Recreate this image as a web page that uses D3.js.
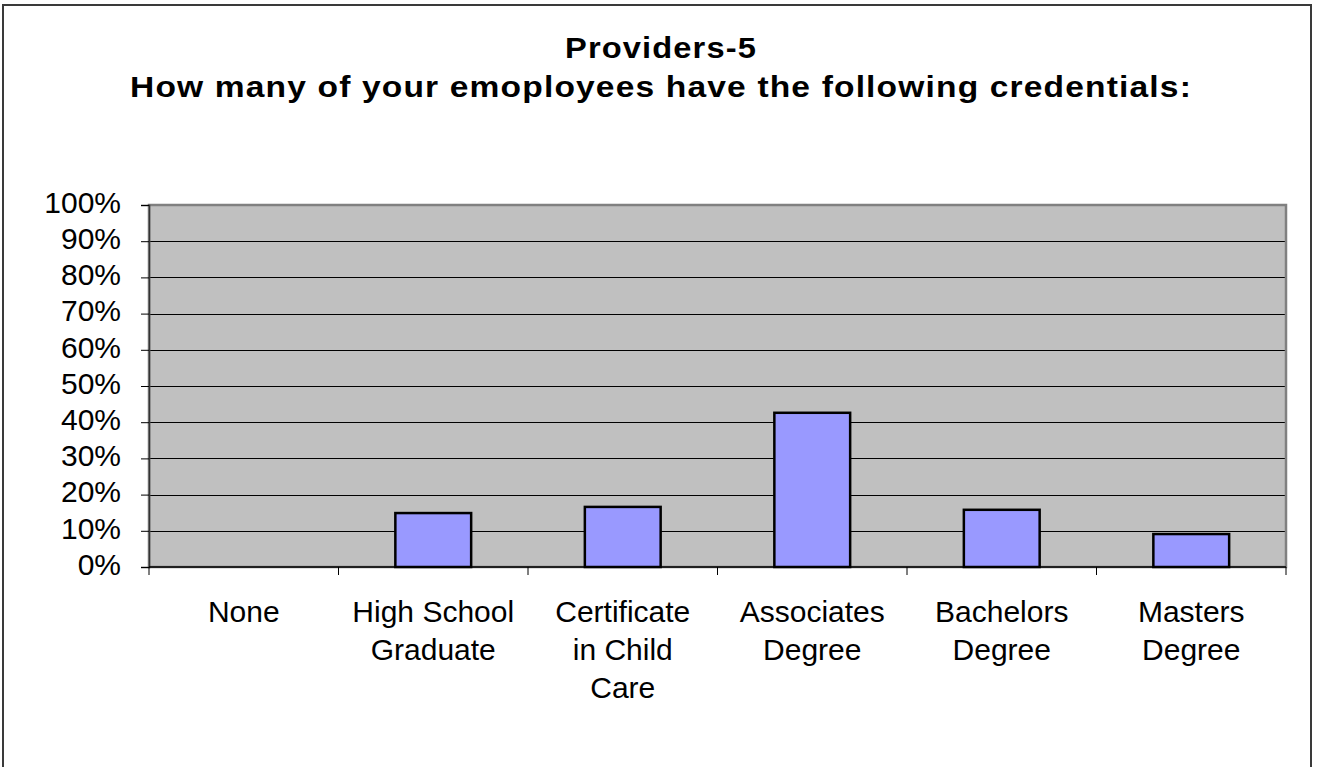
<!DOCTYPE html>
<html>
<head>
<meta charset="utf-8">
<script src="https://cdn.jsdelivr.net/npm/d3@7"></script>
<style>
  html, body { margin: 0; padding: 0; background: #fff; }
  svg { display: block; font-family: "Liberation Sans", Arial, sans-serif; }
</style>
</head>
<body>
<svg id="chart" width="1319" height="767"></svg>
<script>
const categories = [
  ["None"],
  ["High School", "Graduate"],
  ["Certificate", "in Child", "Care"],
  ["Associates", "Degree"],
  ["Bachelors", "Degree"],
  ["Masters", "Degree"]
];
const values = [0, 0.149, 0.166, 0.426, 0.158, 0.091];
const yTicks = [0, 0.1, 0.2, 0.3, 0.4, 0.5, 0.6, 0.7, 0.8, 0.9, 1.0];
const titleLines = ["Providers-5", "How many of your emoployees have the following credentials:"];

const svg = d3.select("#chart");
const plot = { left: 149, right: 1286, top: 205, bottom: 567 };

// outer frame
svg.append("rect")
  .attr("x", 3).attr("y", 5)
  .attr("width", 1311 - 3).attr("height", 820)
  .attr("fill", "#fff").attr("stroke", "#3a3a3a").attr("stroke-width", 2);

// titles (fitted to the reference width)
const titleWidths = [192, 1062];
const titleBase = [58, 97];
titleLines.forEach((s, i) => {
  svg.append("text").attr("x", 661).attr("y", titleBase[i])
    .attr("text-anchor", "middle").attr("font-weight", "bold").attr("font-size", 29)
    .attr("letter-spacing", 1)
    .attr("textLength", titleWidths[i]).attr("lengthAdjust", "spacingAndGlyphs")
    .text(s);
});

const keys = categories.map((c, i) => i);
const x = d3.scaleBand().domain(keys).range([plot.left, plot.right]).paddingInner(0.6).paddingOuter(0.3);
const y = d3.scaleLinear().domain([0, 1]).range([plot.bottom, plot.top]);

// plot background
svg.append("rect")
  .attr("x", plot.left).attr("y", plot.top)
  .attr("width", plot.right - plot.left).attr("height", plot.bottom - plot.top)
  .attr("fill", "#c0c0c0");

// gridlines
svg.append("g").selectAll("line").data(yTicks.slice(1, -1)).join("line")
  .attr("x1", plot.left).attr("x2", plot.right)
  .attr("y1", d => Math.round(y(d)) + 0.5).attr("y2", d => Math.round(y(d)) + 0.5)
  .attr("stroke", "#000").attr("stroke-width", 1);

// plot border
svg.append("rect")
  .attr("x", plot.left).attr("y", plot.top)
  .attr("width", plot.right - plot.left).attr("height", plot.bottom - plot.top)
  .attr("fill", "none").attr("stroke", "#808080").attr("stroke-width", 2.5);

// bars
svg.append("g").selectAll("rect").data(values.map((v, i) => ({ v, i })).filter(d => d.v > 0)).join("rect")
  .attr("x", d => x(d.i))
  .attr("y", d => y(d.v))
  .attr("width", x.bandwidth())
  .attr("height", d => y(0) - y(d.v))
  .attr("fill", "#9999ff").attr("stroke", "#000").attr("stroke-width", 2.5);

// y axis
const yAxis = d3.axisLeft(y).tickValues(yTicks).tickFormat(d3.format(".0%")).tickSize(8).tickPadding(20);
const yg = svg.append("g").attr("transform", `translate(${plot.left},0)`).call(yAxis);
yg.select(".domain").attr("stroke", "#333").attr("stroke-width", 1.5);
yg.selectAll(".tick line").attr("stroke", "#000");
yg.selectAll("text").attr("font-size", 30).attr("fill", "#000").attr("dy", "0.24em")
  .attr("font-family", "Liberation Sans, Arial, sans-serif");

// x axis (category boundary ticks)
const xb = d3.scalePoint().domain(d3.range(categories.length + 1)).range([plot.left, plot.right]);
const xg = svg.append("g");
xg.append("line").attr("x1", plot.left).attr("x2", plot.right)
  .attr("y1", plot.bottom).attr("y2", plot.bottom).attr("stroke", "#000").attr("stroke-width", 1.5);
xg.selectAll("line.t").data(xb.domain()).join("line").attr("class", "t")
  .attr("x1", d => xb(d)).attr("x2", d => xb(d))
  .attr("y1", plot.bottom).attr("y2", plot.bottom + 8)
  .attr("stroke", "#000");

// category labels
const xc = d => (xb(d) + xb(d + 1)) / 2;
categories.forEach((lines, i) => {
  const t = svg.append("text").attr("text-anchor", "middle").attr("font-size", 30).attr("fill", "#000");
  lines.forEach((ln, j) => {
    t.append("tspan").attr("x", xc(i)).attr("y", 622 + j * 38).text(ln);
  });
});
</script>
</body>
</html>
